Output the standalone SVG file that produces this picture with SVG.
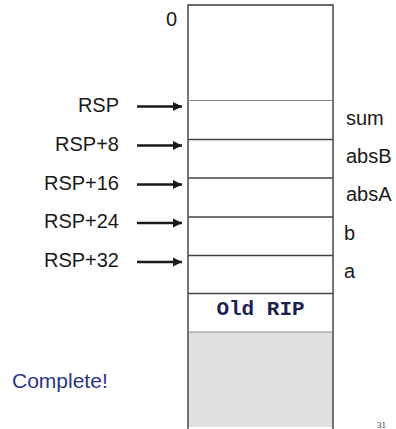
<svg xmlns="http://www.w3.org/2000/svg" width="396" height="429" viewBox="0 0 396 429">
<defs>
<style>
.lbl{font-family:"Liberation Sans",Arial,sans-serif;font-size:20px;fill:#1a1a1a}
.r{text-anchor:end}
.cell{fill:none;stroke:#3a3a3a;stroke-width:1.4}
.sep{stroke:#444;stroke-width:1.4}
.sepl{stroke:#888;stroke-width:1.2}
.arr{stroke:#1a1a1a;stroke-width:2.6;fill:none;marker-end:url(#ah)}
</style>
<marker id="ah" viewBox="0 0 10 10" refX="10" refY="5" markerWidth="3.6" markerHeight="3.6" markerUnits="strokeWidth" orient="auto">
<path d="M0,0 L10,5 L0,10 z" fill="#1a1a1a"/>
</marker>
</defs>
<rect width="396" height="429" fill="#fff"/>
<g id="stack">
<rect x="188" y="332" width="145" height="95" fill="#dfe0e2"/>
<path class="cell" d="M188,429 V5 H333 V429"/>
<line class="sepl" x1="188" y1="100.5" x2="333" y2="100.5"/>
<line class="sep" x1="188" y1="139.5" x2="333" y2="139.5"/>
<line class="sep" x1="188" y1="178" x2="333" y2="178"/>
<line class="sep" x1="188" y1="217" x2="333" y2="217"/>
<line class="sep" x1="188" y1="255.5" x2="333" y2="255.5"/>
<line class="sep" x1="188" y1="293.5" x2="333" y2="293.5"/>
<line class="sepl" x1="188" y1="332" x2="333" y2="332"/>
<text x="260.5" y="315" text-anchor="middle" font-family="'Liberation Mono','Courier New',monospace" font-weight="bold" font-size="21" fill="#1c2250">Old RIP</text>
</g>
<g id="labels-left">
<text class="lbl r" x="177" y="26">0</text>
<text class="lbl r" x="119" y="112">RSP</text>
<text class="lbl r" x="119" y="151">RSP+8</text>
<text class="lbl r" x="119" y="190">RSP+16</text>
<text class="lbl r" x="119" y="228">RSP+24</text>
<text class="lbl r" x="119" y="267">RSP+32</text>
</g>
<g id="labels-right">
<text class="lbl" x="346" y="125">sum</text>
<text class="lbl" x="346" y="163">absB</text>
<text class="lbl" x="346" y="201">absA</text>
<text class="lbl" x="344" y="240">b</text>
<text class="lbl" x="344" y="278">a</text>
</g>
<g id="connectors">
<line class="arr" x1="137" y1="106.5" x2="182" y2="106.5"/>
<line class="arr" x1="137" y1="145.5" x2="182" y2="145.5"/>
<line class="arr" x1="137" y1="184.5" x2="182" y2="184.5"/>
<line class="arr" x1="137" y1="223" x2="182" y2="223"/>
<line class="arr" x1="137" y1="262" x2="182" y2="262"/>
</g>
<g id="note">
<text x="12" y="388" font-family="'Liberation Sans',Arial,sans-serif" font-size="21" fill="#2a3585">Complete!</text>
<text x="377" y="428" font-family="'Liberation Serif','Times New Roman',serif" font-size="9" fill="#333">31</text>
</g>
</svg>
